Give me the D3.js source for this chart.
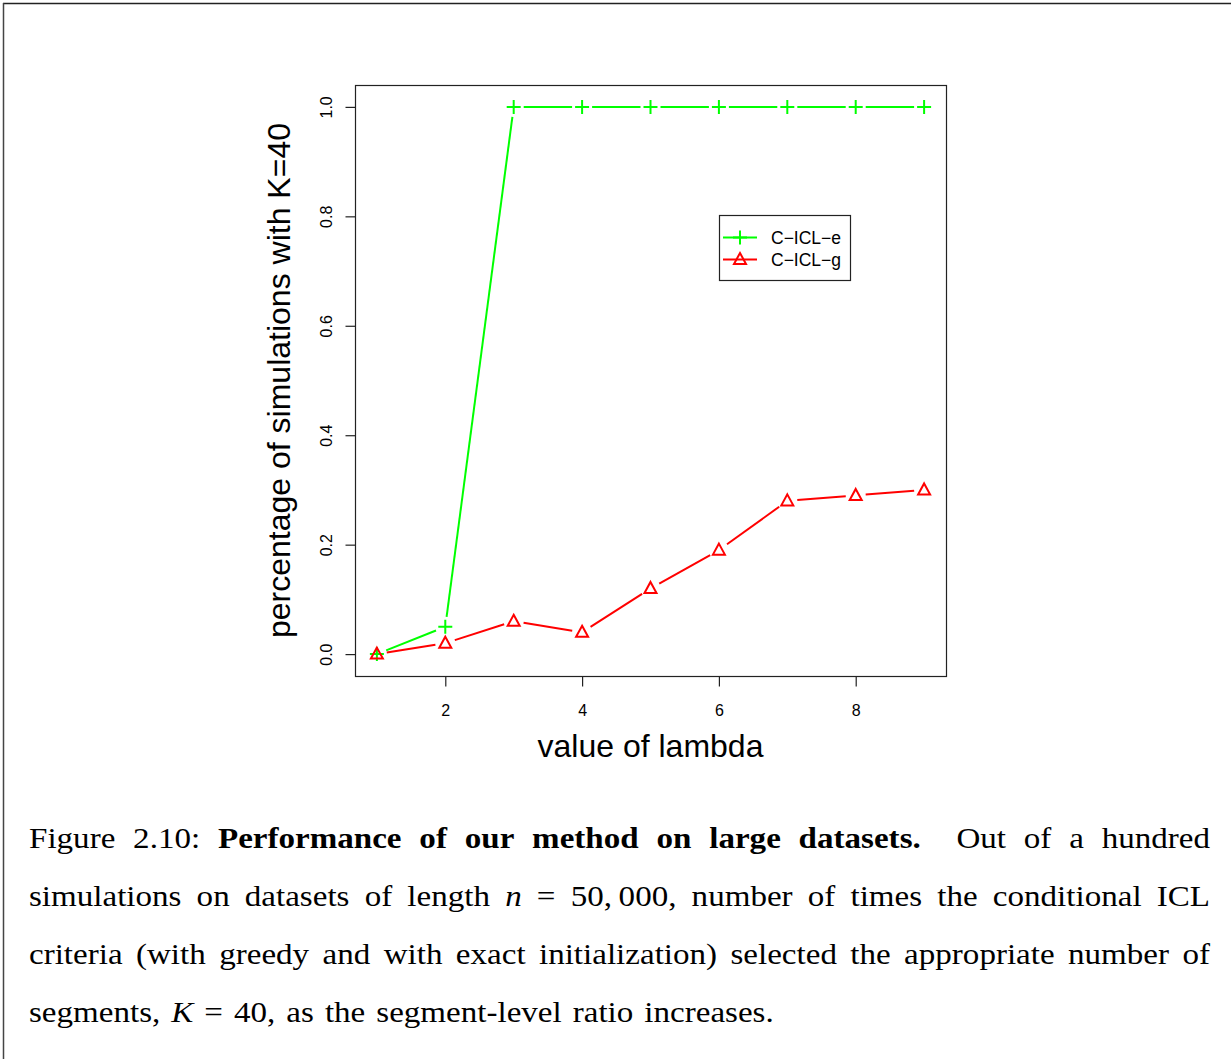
<!DOCTYPE html>
<html>
<head>
<meta charset="utf-8">
<script src="https://cdn.jsdelivr.net/npm/d3@7"></script>
<style>
  body { margin: 0; background: #fff; }
  svg { display: block; }
</style>
</head>
<body>
<script>
"use strict";

// values
const lambdaValues = [1, 2, 3, 4, 5, 6, 7, 8, 9]
const exactInit = [0, 0.05, 1, 1, 1, 1, 1, 1, 1]
const greedyInit = [0, 0.02, 0.06, 0.04, 0.12, 0.19, 0.28, 0.29, 0.30]
const seriesNames = ["C\u2212ICL\u2212e", "C\u2212ICL\u2212g"]
const xTicks = [2, 4, 6, 8]
const yTicks = [0, 0.2, 0.4, 0.6, 0.8, 1.0]
const xTitle = "value of lambda"
const yTitle = "percentage of simulations with K=40"

// caption lines: pieces of [text, style]  (b = bold, i = italic)
const captionLines = [
    [["Figure 2.10:", ""], ["Performance of our method on large datasets.", "b"], ["Out of a hundred", ""]],
    [["simulations on datasets of length", ""], ["n", "i"], ["= 50,\u2009000, number of times the conditional ICL", ""]],
    [["criteria (with greedy and with exact initialization) selected the appropriate number of", ""]],
    [["segments,", ""], ["K", "i"], ["= 40, as the segment-level ratio increases.", ""]]
]

;(function(){
    const measurements = {
        width: 1231,
        height: 1059
    }

    const svgContainer = d3.select('body').append("svg")
        .attr('width', measurements.width)
        .attr('height', measurements.height)

    // page frame (top + left edge only)
    svgContainer.append('line')
        .attr('x1', 3).attr('y1', 3.5).attr('x2', measurements.width).attr('y2', 3.5)
        .attr('stroke', '#222').attr('stroke-width', 1.5)
    svgContainer.append('line')
        .attr('x1', 3.5).attr('y1', 3).attr('x2', 3.5).attr('y2', measurements.height)
        .attr('stroke', '#444').attr('stroke-width', 1.5)

    // R style: 4% padding around data range
    const scaleX = d3.scaleLinear().domain([0.68, 9.32]).range([355, 946])
    const scaleY = d3.scaleLinear().domain([-0.04, 1.04]).range([676, 85])

    const plot = svgContainer.append('g')
        .style('font-family', '"Liberation Sans", Arial, sans-serif')

    // box
    plot.append('rect')
        .attr('x', scaleX.range()[0] + 0.5)
        .attr('y', scaleY.range()[1] + 0.5)
        .attr('width', scaleX.range()[1] - scaleX.range()[0])
        .attr('height', scaleY.range()[0] - scaleY.range()[1])
        .attr('fill', 'none')
        .attr('stroke', '#222')
        .attr('stroke-width', 1.2)

    // axes
    const xAxis = d3.axisBottom(scaleX).tickValues(xTicks).tickSize(10).tickPadding(16)
    const gx = plot.append('g')
        .attr('transform', 'translate(0,' + (scaleY.range()[0] + 0.5) + ')')
        .call(xAxis)
    gx.select('.domain').remove()
    gx.selectAll('line').attr('stroke', '#222').attr('stroke-width', 1.2)
    gx.selectAll('text').attr('font-size', 16).attr('fill', '#000')
        .attr('font-family', '"Liberation Sans", Arial, sans-serif')
        .attr('dy', null).attr('y', 39)

    const yAxis = d3.axisLeft(scaleY).tickValues(yTicks).tickSize(10).tickFormat(d3.format('.1f'))
    const gy = plot.append('g')
        .attr('transform', 'translate(' + (scaleX.range()[0] + 0.5) + ',0)')
        .call(yAxis)
    gy.select('.domain').remove()
    gy.selectAll('line').attr('stroke', '#222').attr('stroke-width', 1.2)
    gy.selectAll('text')
        .attr('font-size', 16).attr('fill', '#000')
        .attr('font-family', '"Liberation Sans", Arial, sans-serif')
        .attr('x', null).attr('dy', null)
        .attr('text-anchor', 'middle')
        .attr('transform', 'translate(-24,0) rotate(-90)')

    // axis titles
    plot.append('text')
        .attr('x', (scaleX.range()[0] + scaleX.range()[1]) / 2)
        .attr('y', 757)
        .attr('text-anchor', 'middle')
        .attr('font-size', 32)
        .text(xTitle)

    plot.append('text')
        .attr('transform', 'translate(290,' + ((scaleY.range()[0] + scaleY.range()[1]) / 2) + ') rotate(-90)')
        .attr('text-anchor', 'middle')
        .attr('font-size', 32)
        .text(yTitle)

    // type = "b": segments with gaps around the points
    const gap = 10
    function drawSeries(values, color, shape) {
        const pts = lambdaValues.map((x, i) => [scaleX(x), scaleY(values[i])])
        for (let i = 0; i < pts.length - 1; i++) {
            const [x1, y1] = pts[i]
            const [x2, y2] = pts[i + 1]
            const len = Math.hypot(x2 - x1, y2 - y1)
            if (len <= 2 * gap) continue
            const ux = (x2 - x1) / len, uy = (y2 - y1) / len
            plot.append('line')
                .attr('x1', x1 + ux * gap).attr('y1', y1 + uy * gap)
                .attr('x2', x2 - ux * gap).attr('y2', y2 - uy * gap)
                .attr('stroke', color).attr('stroke-width', 2)
        }
        pts.forEach(p => drawPoint(p[0], p[1], color, shape))
    }

    function drawPoint(x, y, color, shape) {
        if (shape === 'plus') {
            plot.append('path')
                .attr('d', `M${x - 7},${y}H${x + 7}M${x},${y - 7}V${y + 7}`)
                .attr('stroke', color).attr('stroke-width', 2).attr('fill', 'none')
        } else {
            plot.append('path')
                .attr('d', `M${x},${y - 6.5}L${x + 6},${y + 4.5}L${x - 6},${y + 4.5}Z`)
                .attr('stroke', color).attr('stroke-width', 2).attr('fill', 'none')
        }
    }

    drawSeries(exactInit, '#00ff00', 'plus')
    drawSeries(greedyInit, '#ff0000', 'tri')

    // legend
    const legend = plot.append('g')
    legend.append('rect')
        .attr('x', 719.5).attr('y', 215.5).attr('width', 131).attr('height', 65)
        .attr('fill', '#fff').attr('stroke', '#222').attr('stroke-width', 1.2)
    const legendColors = ['#00ff00', '#ff0000']
    const legendShapes = ['plus', 'tri']
    seriesNames.forEach((name, i) => {
        const ly = 237.5 + i * 22
        legend.append('line')
            .attr('x1', 723).attr('x2', 757).attr('y1', ly).attr('y2', ly)
            .attr('stroke', legendColors[i]).attr('stroke-width', 2)
        drawPoint(740, ly, legendColors[i], legendShapes[i])
        legend.append('text')
            .attr('x', 771).attr('y', ly + 6)
            .attr('font-size', 17.5)
            .text(name)
    })

    // caption, justified word by word; glyphs widened a bit (Computer Modern is wider than Times)
    const cap = svgContainer.append('g')
        .style('font-family', '"Liberation Serif", "Times New Roman", serif')
        .attr('font-size', 29)
    const capLeft = 29, capRight = 1210
    const widen = 1.14
    captionLines.forEach((line, li) => {
        const baseline = 848 + li * 58
        const words = []
        line.forEach(([txt, style]) => {
            txt.split(' ').filter(w => w.length).forEach(w => words.push({ w, style }))
        })
        const nodes = words.map(d => {
            const t = cap.append('text')
                .attr('y', baseline)
                .attr('font-weight', d.style === 'b' ? 'bold' : 'normal')
                .attr('font-style', d.style === 'i' ? 'italic' : 'normal')
                .text(d.w)
            const len = t.node().getComputedTextLength() * widen
            t.attr('textLength', len).attr('lengthAdjust', 'spacingAndGlyphs')
            return { t, len, w: d.w }
        })
        // sentence gap after "datasets." counts as two spaces
        const weights = nodes.map((n, i) => (i < nodes.length - 1 && n.w.endsWith('datasets.')) ? 2 : 1)
        const total = d3.sum(nodes, n => n.len)
        const last = li === captionLines.length - 1
        const nGaps = d3.sum(weights.slice(0, -1))
        const space = last ? 11 : (capRight - capLeft - total) / nGaps
        let x = capLeft
        nodes.forEach((n, i) => {
            n.t.attr('x', x)
            x += n.len + space * weights[i]
        })
    })
})()
</script>
</body>
</html>
